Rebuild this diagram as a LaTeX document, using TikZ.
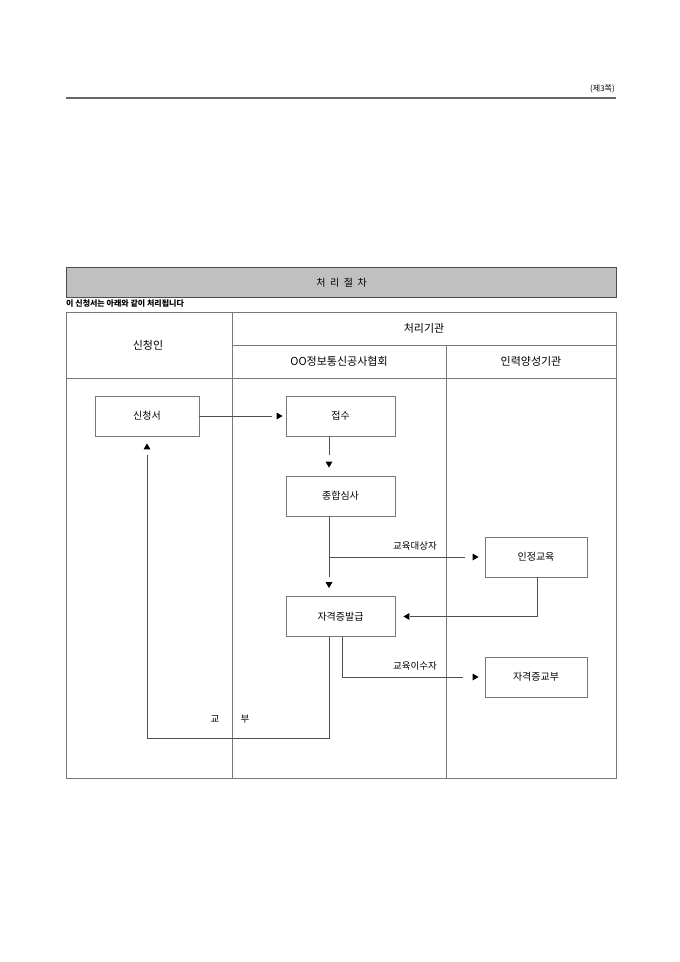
\documentclass[tikz,border=0pt]{standalone}
\usepackage{fontspec}
\setmainfont{Noto Sans CJK KR}
\usetikzlibrary{calc}
\definecolor{barfill}{RGB}{192,192,192}
\definecolor{linec}{RGB}{120,120,120}
\definecolor{connc}{RGB}{80,80,80}
\newcommand\tipR[1]{\fill[black] (#1) -- ++(-6,-3.5) -- ++(0,7) -- cycle;}
\newcommand\tipL[1]{\fill[black] (#1) -- ++(6,-3.5) -- ++(0,7) -- cycle;}
\newcommand\tipD[1]{\fill[black] (#1) -- ++(-3.5,-6) -- ++(7,0) -- cycle;}
\newcommand\tipU[1]{\fill[black] (#1) -- ++(-3.5,6) -- ++(7,0) -- cycle;}
\begin{document}
\begin{tikzpicture}[x=1pt,y=-1pt,
  tline/.style={draw=linec,line width=0.8pt},
  conn/.style={draw=connc,line width=0.7pt},
  box/.style={draw=linec,line width=0.9pt,minimum height=40pt,inner sep=0pt,font=\fontsize{10}{12}\selectfont},
  head/.style={font=\fontsize{11}{13}\selectfont,inner sep=0pt},
  lab/.style={font=\fontsize{9.5}{11}\selectfont,inner sep=0pt}]
\useasboundingbox (0,0) rectangle (680,962);
% page header
\node[anchor=east,inner sep=0pt,font=\fontsize{8}{10}\selectfont] (page) at (615,89) {(제3쪽)};
\draw[draw=black!60,line width=2.5pt] (66,98) -- (616,98);
% title bar
\node[draw=black!70,line width=1.2pt,fill=barfill,minimum width=550pt,minimum height=30pt,anchor=north west,inner sep=0pt] (bar) at (66,267) {};
\node[font=\fontsize{10}{12}\selectfont,inner sep=0pt] (title) at (bar.center) {처\ \ 리\ \ 절\ \ 차};
\node[anchor=west,inner sep=0pt,font=\bfseries\fontsize{8}{10}\selectfont] (note) at (66,303.5) {이 신청서는 아래와 같이 처리됩니다};
% table
\draw[tline] (66,312) rectangle (616,778);
\draw[tline] (232,312) -- (232,778);
\draw[tline] (232,345) -- (616,345);
\draw[tline] (446,345) -- (446,778);
\draw[tline] (66,378) -- (616,378);
\node[head] (h1) at (148,345) {신청인};
\node[head] (h2) at (424,328.5) {처리기관};
\node[head] (h3) at (339,361.5) {OO정보통신공사협회};
\node[head] (h4) at (531,361.5) {인력양성기관};
% boxes
\node[box,minimum width=104pt] (s) at (147,416) {신청서};
\node[box,minimum width=109pt] (j) at (340.5,416) {접수};
\node[box,minimum width=109pt] (h) at (340.5,496) {종합심사};
\node[box,minimum width=109pt] (b) at (340.5,616.5) {자격증발급};
\node[box,minimum width=102pt] (e) at (536,557) {인정교육};
\node[box,minimum width=102pt] (g) at (536,677) {자격증교부};
% connectors
\draw[conn] (s.east) -- ([xshift=-14pt]j.west);
\tipR{[xshift=-3pt]j.west}
\coordinate (jx) at ([xshift=-11.5pt]j.south);
\coordinate (hx) at ([xshift=-11.5pt]h.south);
\coordinate (bx) at ([xshift=-11.5pt]b.south);
\coordinate (bx2) at ([xshift=1.5pt]b.south);
\draw[conn] (jx) -- ([xshift=-11.5pt,yshift=21pt]h.north);
\tipD{[xshift=-11.5pt,yshift=8pt]h.north}
\draw[conn] (hx) -- ([xshift=-11.5pt,yshift=19pt]b.north);
\tipD{[xshift=-11.5pt,yshift=8pt]b.north}
\draw[conn] (hx |- e.west) -- ([xshift=-20pt]e.west);
\tipR{[xshift=-6pt]e.west}
\node[lab] (l1) at (415,546) {교육대상자};
\coordinate (ex) at ([xshift=1pt]e.south);
\draw[conn] (ex) -- (ex |- b.east) -- ([xshift=15pt]b.east);
\tipL{[xshift=8pt]b.east}
\draw[conn] (bx2) -- (bx2 |- g.west) -- ([xshift=-22pt]g.west);
\tipR{[xshift=-6pt]g.west}
\node[lab] (l2) at (415,666) {교육이수자};
\coordinate (lb) at (0,738);
\draw[conn] (bx) -- (bx |- lb) -- (s.south |- lb) -- ([yshift=-19pt]s.south);
\tipU{[yshift=-7pt]s.south}
\node[lab] (k1) at (215,719) {교};
\node[lab] (k2) at (245,719) {부};
\end{tikzpicture}
\end{document}
